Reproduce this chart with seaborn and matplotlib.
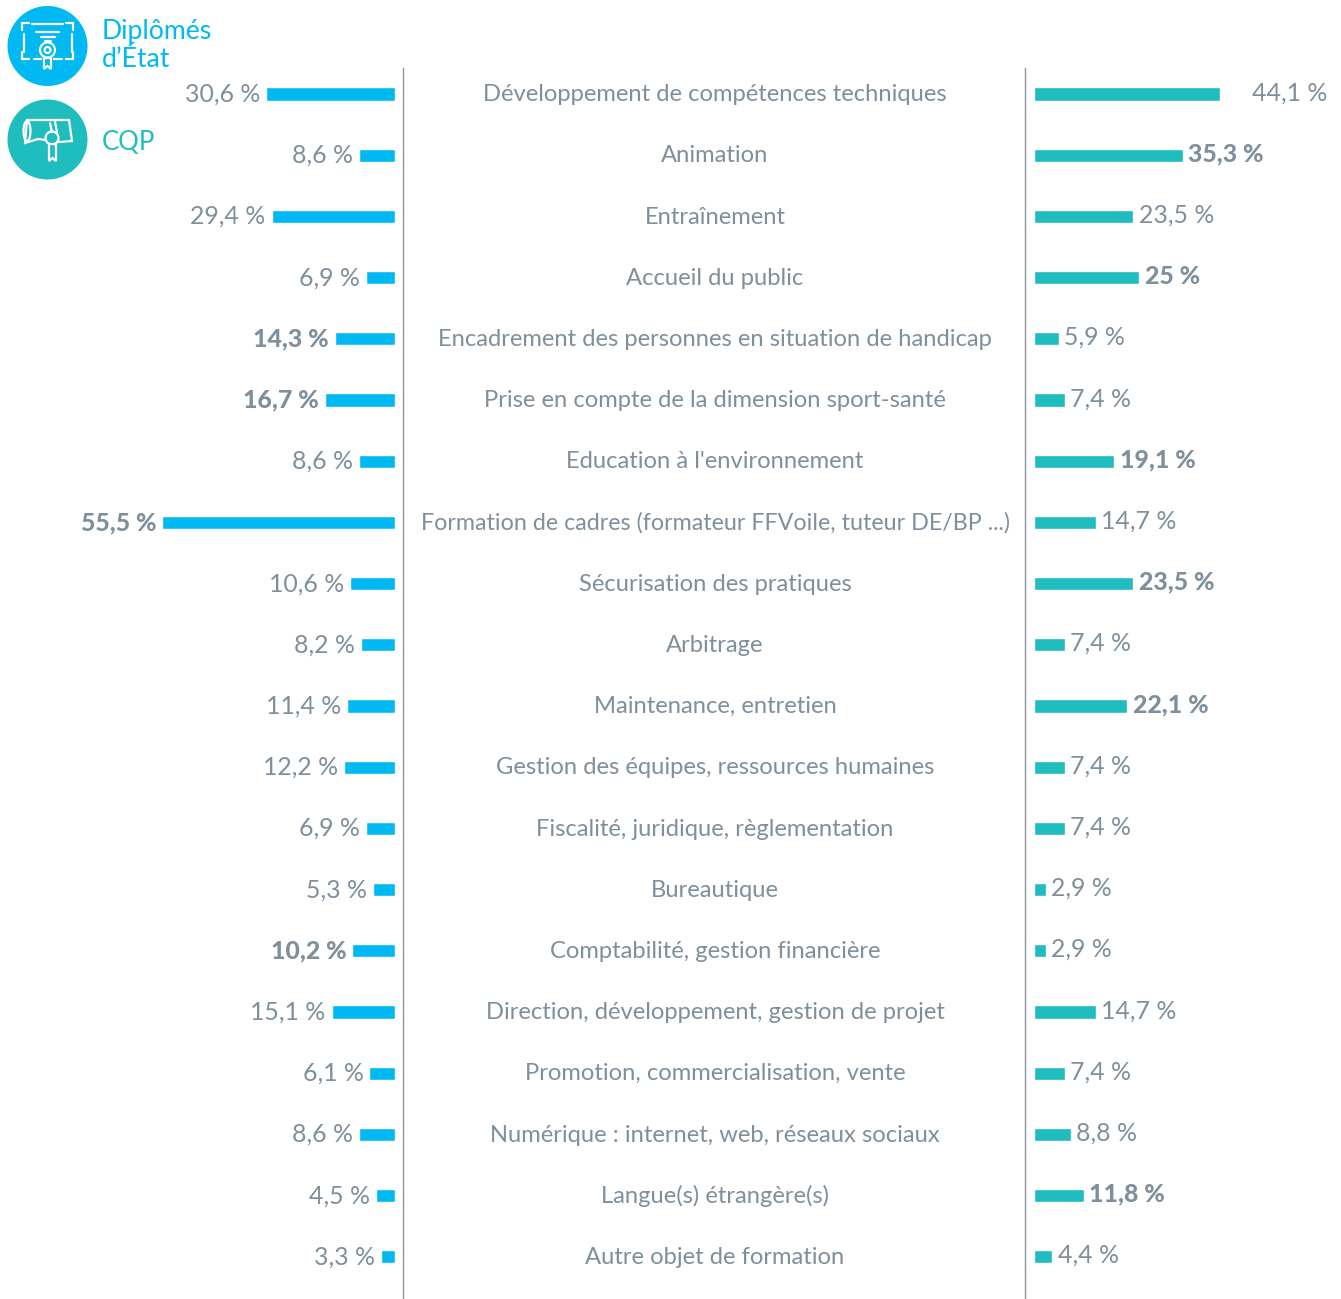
import matplotlib
matplotlib.use("Agg")
import matplotlib.pyplot as plt
from matplotlib.patches import Circle, Polygon, Ellipse
import pandas as pd
import seaborn as sns

topics = [
    "Développement de compétences techniques", "Animation", "Entraînement",
    "Accueil du public", "Encadrement des personnes en situation de handicap",
    "Prise en compte de la dimension sport-santé", "Education à l'environnement",
    "Formation de cadres (formateur FFVoile, tuteur DE/BP ...)",
    "Sécurisation des pratiques", "Arbitrage", "Maintenance, entretien",
    "Gestion des équipes, ressources humaines",
    "Fiscalité, juridique, règlementation", "Bureautique",
    "Comptabilité, gestion financière",
    "Direction, développement, gestion de projet",
    "Promotion, commercialisation, vente",
    "Numérique : internet, web, réseaux sociaux",
    "Langue(s) étrangère(s)", "Autre objet de formation",
]
de_values = [30.6, 8.6, 29.4, 6.9, 14.3, 16.7, 8.6, 55.5, 10.6, 8.2,
             11.4, 12.2, 6.9, 5.3, 10.2, 15.1, 6.1, 8.6, 4.5, 3.3]
cqp_values = [44.1, 35.3, 23.5, 25, 5.9, 7.4, 19.1, 14.7, 23.5, 7.4,
              22.1, 7.4, 7.4, 2.9, 2.9, 14.7, 7.4, 8.8, 11.8, 4.4]
de_bold = [4, 5, 7, 14]
cqp_bold = [1, 3, 6, 8, 10, 18]

BLUE = "#00b9f2"
TEAL = "#20bdbe"
GREY = "#7f8f9b"
W, H = 1341, 1299
FONT = "Lato"


def fmt(v):
    return f"{v:g} %".replace(".", ",")


sns.set_theme(style="white")
plt.rcParams["font.family"] = [FONT, "DejaVu Sans"]

df = pd.DataFrame({"topic": topics, "de": de_values, "cqp": cqp_values})
fig = plt.figure(figsize=(W / 100, H / 100), dpi=100, facecolor="white")

# row i sits at pixel 94 + 61.2 * i
y_top = -94 / 61.2
y_bottom = (H - 94) / 61.2

ax_l = fig.add_axes([0, 0, 395 / W, 1])
sns.barplot(data=df, y="topic", x="de", color=BLUE, width=0.215, saturation=1, ax=ax_l)
ax_l.set_xlim(395 / 4.2, 0)
ax_r = fig.add_axes([1033.6 / W, 0, (W - 1033.6) / W, 1])
sns.barplot(data=df, y="topic", x="cqp", color=TEAL, width=0.215, saturation=1, ax=ax_r)
ax_r.set_xlim(0, (W - 1033.6) / 4.23)

for ax in (ax_l, ax_r):
    ax.set_ylim(y_bottom, y_top)
    ax.axis("off")

for i, v in enumerate(de_values):
    ax_l.annotate(fmt(v), (v, i), xytext=(-4.2, 0), textcoords="offset points",
                  ha="right", va="center", fontsize=17.9, color=GREY,
                  fontweight="black" if i in de_bold else "normal")
for i, v in enumerate(cqp_values):
    gap = 23 if i == 0 else 4
    ax_r.annotate(fmt(v), (v, i), xytext=(gap, 1), textcoords="offset points",
                  ha="left", va="center", fontsize=17.9, color=GREY,
                  fontweight="black" if i in cqp_bold else "normal")

# centre column, framed by the two grey rules
ax_c = fig.add_axes([402.8 / W, 0, 622 / W, (H - 68) / H])
ax_c.set_xlim(0, 1)
ax_c.set_ylim(y_bottom, (68 - 94) / 61.2)
ax_c.set_xticks([])
ax_c.set_yticks([])
ax_c.patch.set_alpha(0)
for side in ("top", "bottom"):
    ax_c.spines[side].set_visible(False)
for side in ("left", "right"):
    ax_c.spines[side].set_color("#8f979e")
    ax_c.spines[side].set_linewidth(1)
for i, t in enumerate(topics):
    # the longest label is tighter in the source
    size = 16.75 if i == 7 else 17.1
    ax_c.text(0.502, i + 0.01, t, ha="center", va="center", fontsize=size, color=GREY)

# legend with the two badges, in pixel coordinates
ax_k = fig.add_axes([0, 0, 1, 1])
ax_k.set_xlim(0, W)
ax_k.set_ylim(H, 0)
ax_k.axis("off")
ax_k.patch.set_alpha(0)
ax_k.add_patch(Circle((47.5, 46), 40, color=BLUE, lw=0))
ax_k.add_patch(Circle((47.5, 139.5), 40, color=TEAL, lw=0))
ax_k.text(102, 31, "Diplômés", color=BLUE, fontsize=19.2, va="center")
ax_k.text(102, 59, "d’État", color=BLUE, fontsize=19.2, va="center")
ax_k.text(102, 142, "CQP", color=TEAL, fontsize=18.5, va="center")

# diploma icon
lw = 1.6
for xs, ys in [((22, 29), (23, 23)), ((22, 22), (23, 30)), ((66, 73), (23, 23)),
               ((73, 73), (23, 30)), ((24, 24), (34, 52)), ((72, 72), (34, 52)),
               ((22, 22), (52, 59)), ((22, 29), (59, 59)), ((73, 73), (52, 59)),
               ((66, 73), (59, 59)), ((32, 63), (24, 24)), ((36, 59), (32, 32)),
               ((41, 55), (37, 37)), ((45, 51), (41, 41)), ((34, 41), (59, 59)),
               ((54, 62), (59, 59))]:
    ax_k.plot(xs, ys, color="white", lw=lw)
ax_k.add_patch(Circle((47.5, 50), 7.5, fill=False, ec="white", lw=lw))
ax_k.add_patch(Circle((47.5, 50), 3, fill=False, ec="white", lw=lw))
ax_k.add_patch(Polygon([(44, 58), (44, 69), (47.5, 66), (51, 69), (51, 58)], fill=False, ec="white", lw=lw))

# scroll icon
ax_k.add_patch(Polygon([(27, 120), (69, 120), (72, 141), (60, 142), (38, 139), (25, 143)],
                       fill=False, ec="white", lw=lw))
ax_k.add_patch(Ellipse((27, 131), 7, 20, fill=False, ec="white", lw=lw))
ax_k.add_patch(Circle((52, 138), 6.5, fc=TEAL, ec="white", lw=lw))
ax_k.add_patch(Polygon([(49, 144), (49, 161), (52.5, 158), (56, 161), (56, 144)], fc=TEAL, ec="white", lw=lw))
ax_k.plot((50, 52), (123, 132), color="white", lw=lw)
ax_k.plot((55, 57), (122, 132), color="white", lw=lw)

fig.savefig("out.png", dpi=100)
plt.close(fig)
